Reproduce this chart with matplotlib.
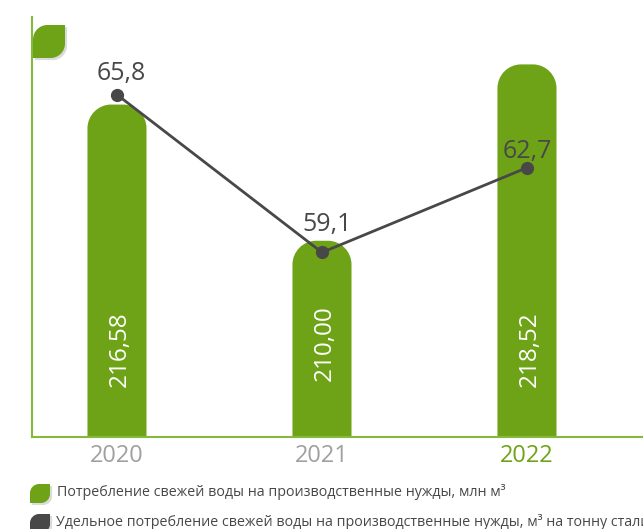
import matplotlib
matplotlib.use("Agg")
import matplotlib.pyplot as plt
import matplotlib.patheffects as pe
from matplotlib.patches import PathPatch
from matplotlib.path import Path
from matplotlib.transforms import Affine2D

years = ["2020", "2021", "2022"]
water_total = [216.58, 210.00, 218.52]
water_specific = [65.8, 59.1, 62.7]
legend_labels = [
    "Потребление свежей воды на производственные нужды, млн м³",
    "Удельное потребление свежей воды на производственные нужды, м³ на тонну стали",
]

GREEN = "#6fa317"
SPINE = "#85b93c"
DARK = "#484848"
GREY = "#a0a0a0"
FONT = "Open Sans"
W, H = 643, 529

plt.rcParams["font.family"] = [FONT, "DejaVu Sans"]


def rounded_bar(x, top, bottom, half, rx, ry):
    # bar with only the top corners rounded, in data units
    k = 0.55
    verts = [(x - half, bottom), (x - half, top - ry),
             (x - half, top - ry + k * ry), (x - half + rx - k * rx, top), (x - half + rx, top),
             (x + half - rx, top),
             (x + half - rx + k * rx, top), (x + half, top - ry + k * ry), (x + half, top - ry),
             (x + half, bottom), (x - half, bottom)]
    codes = [Path.MOVETO, Path.LINETO, Path.CURVE4, Path.CURVE4, Path.CURVE4, Path.LINETO,
             Path.CURVE4, Path.CURVE4, Path.CURVE4, Path.LINETO, Path.CLOSEPOLY]
    return Path(verts, codes)


def leaf(fig, x, y, w, h, color):
    # leaf icon, x/y are the top-left pixel of the picture
    r = 0.45 * w
    k = 0.55
    verts = [(x, y + h), (x, y + r),
             (x, y + r - k * r), (x + r - k * r, y), (x + r, y),
             (x + w, y), (x + w, y + h - r),
             (x + w, y + h - r + k * r), (x + w - r + k * r, y + h), (x + w - r, y + h),
             (x, y + h), (x, y + h)]
    codes = [Path.MOVETO, Path.LINETO, Path.CURVE4, Path.CURVE4, Path.CURVE4, Path.LINETO,
             Path.LINETO, Path.CURVE4, Path.CURVE4, Path.CURVE4, Path.LINETO, Path.CLOSEPOLY]
    tr = Affine2D().scale(1 / W, -1 / H).translate(0, 1) + fig.transFigure
    patch = PathPatch(Path(verts, codes), facecolor=color, edgecolor="none", transform=tr, zorder=6,
                      path_effects=[pe.SimplePatchShadow(offset=(1.5, -1.5), shadow_rgbFace="#888888", alpha=0.3),
                                    pe.Normal()])
    fig.add_artist(patch)


fig = plt.figure(figsize=(W / 100, H / 100), dpi=100)
ax = fig.add_axes([32 / W, 1 - 437 / H, (W - 32) / W, 420 / H])
ax2 = ax.twinx()
ax2.set_position(ax.get_position())

ax.set_xlim(-0.4146, 2.566)
ax.set_ylim(200.52, 220.81)
ax2.set_ylim(51.26, 69.10)

half = 0.144
bar_label_up = [36, 40, 36]
for i, val in enumerate(water_total):
    p = rounded_bar(i, val, 200.52, half, 0.115, 1.15)
    ax.add_patch(PathPatch(p, facecolor=GREEN, edgecolor="none", zorder=2))
    ax.annotate(f"{val:.2f}".replace(".", ","), (i, 200.52), xytext=(2, bar_label_up[i]), textcoords="offset points",
                rotation=90, ha="center", va="bottom", color="white", fontsize=17.5)

for s in ["top", "right"]:
    ax.spines[s].set_visible(False)
    ax2.spines[s].set_visible(False)
ax2.spines["left"].set_visible(False)
ax2.spines["bottom"].set_visible(False)
ax.spines["left"].set_color(SPINE)
ax.spines["bottom"].set_color(SPINE)
ax.spines["left"].set_linewidth(1.5)
ax.spines["bottom"].set_linewidth(1.5)

ax.set_xticks(range(len(years)), years)
ax.set_yticks([])
ax2.set_yticks([])
ax.tick_params(axis="x", length=0, pad=5, labelsize=17, labelcolor=GREY)
ax.get_xticklabels()[-1].set_color(GREEN)

ax2.plot(range(len(years)), water_specific, color=DARK, lw=2, marker="o", ms=8.5, zorder=5)
label_off = [(3, 6), (4, 11), (0, 3)]
for i, val in enumerate(water_specific):
    ax2.annotate(f"{val:.1f}".replace(".", ","), (i, val), xytext=label_off[i], textcoords="offset points",
                 ha="center", va="bottom", color=DARK, fontsize=18, zorder=6)

leaf(fig, 33, 25, 32, 33, GREEN)
leaf(fig, 30, 484, 20, 19, GREEN)
leaf(fig, 30, 514, 20, 19, DARK)

fig.text(57 / W, 1 - 492 / H, legend_labels[0], fontsize=10.3, color=DARK, va="center", ha="left")
fig.text(56 / W, 1 - 522 / H, legend_labels[1], fontsize=10.3, color=DARK, va="center", ha="left")

fig.savefig("out.png", dpi=100)
